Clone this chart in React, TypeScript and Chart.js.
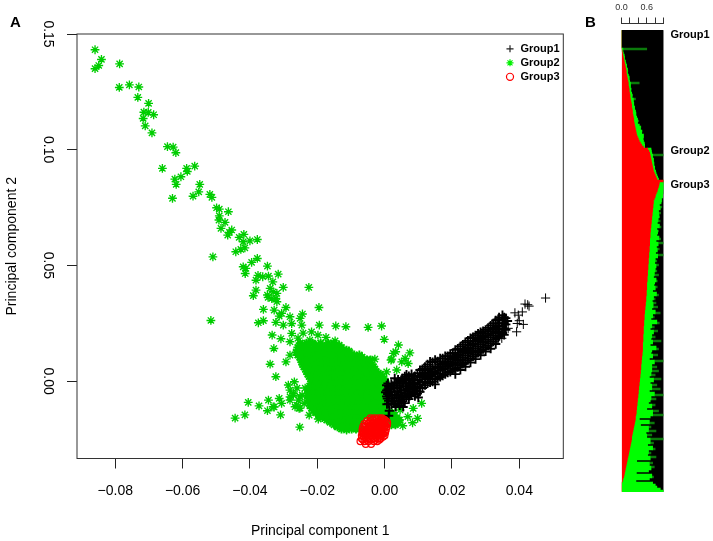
import React, { useEffect, useRef } from "react";
import { Chart, registerables } from "chart.js";

Chart.register(...registerables);

const FONT = "'Liberation Sans', Arial, sans-serif";

const xTickValues = [-0.08, -0.06, -0.04, -0.02, 0, 0.02, 0.04];
const yTickValues = [0, 0.05, 0.1, 0.15];

const group1Outliers = [
  [.0478,.0359],[.0425,.0330],[.0417,.0333],[.0429,.0324],[.0387,.0295],[.0409,.0299],[.0397,.0285],[.0394,.0249],
  [.0412,.0245],[.0400,.0261],[.0392,.0213],[.0367,.0228],[.0348,.0185],
];
const group1Low = [
  [.0006,-.0018],[.0003,-.0048],[.0008,-.0075],[.0012,-.0098],[.0014,-.0128],[.0018,-.0032],[.0022,-.0062],[.0028,-.0088],
  [.0033,-.0112],[.0035,-.0008],[.0038,-.0045],[.0044,-.0072],[.0055,-.0112],[.0055,-.0024],[.0058,-.0055],[.0066,.0006],
  [.0068,-.0034],[.0072,-.0078],[.0078,-.0012],[.0084,-.0048],[.0074,.0012],[.0100,-.0071],[.0030,.0012],[.0012,-.0150],
  [.0010,-.0035],[.0015,-.0060],[.0020,-.0085],[.0025,-.0020],[.0030,-.0045],[.0035,-.0070],[.0040,-.0095],[.0045,-.0020],
  [.0050,-.0040],[.0050,-.0090],[.0062,-.0010],[.0062,-.0040],[.0065,-.0070],[.0060,-.0095],[.0075,-.0030],[.0080,-.0060],
  [.0085,-.0025],[.0085,.0005],[.0095,-.0040],[.0090,-.0065],[.0045,-.0002],[.0060,.0020],
  [.0010,-.0010],[.0012,-.0025],[.0006,-.0040],[.0009,-.0056],[.0006,-.0066],[.0012,-.0085],[.0007,-.0100],[.0020,-.0012],
  [.0020,-.0045],[.0024,-.0075],[.0020,-.0102],[.0028,-.0032],[.0030,-.0058],[.0032,-.0100],[.0038,-.0018],[.0038,-.0030],
  [.0040,-.0060],[.0044,-.0085],[.0045,-.0105],[.0048,-.0050],[.0052,-.0010],[.0052,-.0065],[.0056,-.0078],[.0058,.0004],
  [.0066,-.0022],[.0068,-.0052],[.0072,-.0010],[.0074,-.0044],[.0074,-.0064],[.0082,-.0036],[.0082,-.0008],[.0088,-.0012],
  [.0040,.0006],[.0052,.0012],[.0072,.0022],[.0080,.0030],[.0065,.0028],
];
const group1Band = [
  [.009,.0022],[.009,-.0010],[.009,-.0032],[.0105,.0048],[.0105,.0018],[.0105,-.0015],[.0105,-.0046],[.012,.0062],[.012,.0035],
  [.012,.0008],[.012,-.0018],[.0135,.0084],[.0135,.0050],[.0135,.0022],[.0135,-.0006],[.015,.0092],[.015,.0062],[.015,.0035],
  [.015,.0008],[.015,-.0014],[.0165,.0098],[.0165,.0072],[.0165,.0045],[.0165,.0018],[.018,.0108],[.018,.0082],[.018,.0056],
  [.018,.0030],[.0195,.0118],[.0195,.0094],[.0195,.0068],[.0195,.0040],[.021,.0135],[.021,.0108],[.021,.0082],[.021,.0052],
  [.021,.0030],[.0225,.0150],[.0225,.0122],[.0225,.0095],[.0225,.0068],[.0225,.0048],[.024,.0168],[.024,.0138],[.024,.0110],
  [.024,.0082],[.024,.0062],[.0255,.0186],[.0255,.0155],[.0255,.0126],[.0255,.0098],[.0255,.0080],[.027,.0198],[.027,.0170],
  [.027,.0142],[.027,.0115],[.027,.0095],[.0285,.0212],[.0285,.0185],[.0285,.0158],[.0285,.0130],[.0285,.0112],[.030,.0222],
  [.030,.0198],[.030,.0172],[.030,.0146],[.030,.0128],[.0315,.0240],[.0315,.0215],[.0315,.0190],[.0315,.0162],[.0315,.0140],
  [.033,.0262],[.033,.0230],[.033,.0208],[.033,.0180],[.033,.0160],[.034,.0275],[.034,.0250],[.034,.0222],[.034,.0195],
  [.035,.0285],[.035,.0262],[.035,.0236],[.035,.0208],[.036,.0272],[.036,.0245],[.036,.0222],[.0365,.0260],
  [.0112,.0030],[.0128,.0012],[.0142,.0040],[.0158,.0058],[.0172,.0064],[.0188,.0074],[.0202,.0095],[.0218,.0110],[.0232,.0128],
  [.0248,.0140],[.0262,.0160],[.0278,.0175],[.0292,.0192],[.0308,.0205],[.0322,.0225],[.0338,.0238],[.0098,.0005],[.0082,.0010],
  [.00975,.0034],[.00975,.0004],[.00975,-.0022],[.00975,-.0054],[.01125,.0052],[.01125,.0024],[.01125,-.0004],[.01125,-.0030],
  [.01275,.0072],[.01275,.0044],[.01275,.0018],[.01275,-.0010],[.01425,.0082],[.01425,.0054],[.01425,.0028],[.01425,-.0002],
  [.01575,.0085],[.01575,.0060],[.01575,.0032],[.01575,.0010],[.01725,.0098],[.01725,.0076],[.01725,.0050],[.01725,.0024],
  [.01875,.0108],[.01875,.0086],[.01875,.0062],[.01875,.0036],[.02025,.0122],[.02025,.0100],[.02025,.0074],[.02025,.0046],
  [.02175,.0140],[.02175,.0116],[.02175,.0088],[.02175,.0060],[.02325,.0158],[.02325,.0130],[.02325,.0102],[.02325,.0074],
  [.02475,.0175],[.02475,.0146],[.02475,.0118],[.02475,.0090],[.02625,.0190],[.02625,.0162],[.02625,.0134],[.02625,.0106],
  [.02775,.0205],[.02775,.0178],[.02775,.0150],[.02775,.0122],[.02925,.0216],[.02925,.0190],[.02925,.0165],[.02925,.0138],
  [.03075,.0230],[.03075,.0206],[.03075,.0180],[.03075,.0153],[.03225,.0250],[.03225,.0222],[.03225,.0198],[.03225,.0170],
  [.03375,.0268],[.03375,.0240],[.03375,.0214],[.03375,.0186],[.0355,.0275],[.0355,.0250],[.0355,.0228],[.0355,.0200],
];

const group2Arm = [
  [-.0860,.1432],[-.0841,.1390],[-.0849,.1364],[-.0860,.1350],[-.0787,.1371],[-.0788,.1269],[-.0758,.1280],[-.0730,.1271],
  [-.0733,.1226],[-.0701,.1200],[-.0715,.1162],[-.0702,.1161],[-.0686,.1151],[-.0717,.1135],[-.0711,.1103],[-.0691,.1073],
  [-.0645,.1013],[-.0628,.1011],[-.0620,.0987],[-.0660,.0919],[-.0588,.0919],[-.0586,.0906],[-.0564,.0929],[-.0605,.0883],
  [-.0623,.0873],[-.0619,.0850],[-.0549,.0850],[-.0552,.0818],[-.0569,.0799],[-.0519,.0807],[-.0513,.0794],[-.0630,.0790],
  [-.0499,.0749],[-.0491,.0743],[-.0464,.0732],[-.0491,.0714],[-.0492,.0696],[-.0474,.0686],[-.0486,.0660],[-.0454,.0653],
  [-.0461,.0643],[-.0466,.0631],[-.0418,.0634],[-.0432,.0621],[-.0420,.0602],[-.0400,.0606],[-.0378,.0612],[-.0415,.0576],
  [-.0427,.0569],[-.0442,.0559],[-.0510,.0537],[-.0378,.0530],[-.0395,.0513],[-.0348,.0497],[-.0420,.0494],[-.0412,.0487],
  [-.0414,.0465],[-.0316,.0462],[-.0376,.0457],[-.0362,.0451],[-.0345,.0454],[-.0382,.0436],[-.0332,.0429],[-.0301,.0405],
  [-.0225,.0405],[-.0382,.0393],[-.0340,.0401],[-.0331,.0386],[-.0390,.0369],[-.0348,.0372],[-.0320,.0379],[-.0323,.0357],
  [-.0346,.0362],[-.0320,.0343],[-.0335,.0357],[-.0195,.0318],[-.0360,.0310],[-.0328,.0307],[-.0293,.0318],[-.0306,.0293],
  [-.0313,.0281],[-.0244,.0290],[-.0281,.0278],[-.0251,.0271],[-.0360,.0261],[-.0375,.0252],[-.0323,.0254],[-.0301,.0242],
  [-.0276,.0249],[-.0246,.0242],[-.0194,.0242],[-.0145,.0238],[-.0115,.0235],[-.0049,.0232],[-.0009,.0238],[-.0334,.0199],
  [-.0308,.0183],[-.0276,.0206],[-.0217,.0213],[-.0001,.0180],[-.0174,.0189],[-.0281,.0170],[-.0329,.0141],[-.0251,.0156],
  [-.0147,.0174],[-.0106,.0130],[.0041,.0156],[.0026,.0120],[.0019,.0091],[.0061,.0098],[-.0281,.0112],[-.0340,.0073],
  [-.0293,.0083],[-.0053,.0091],[-.0029,.0095],[-.0323,.0019],[-.0286,-.0017],[-.0268,-.0003],[-.0019,.0033],[.0006,.0040],
  [.0036,.0048],[-.0516,.0262],[.0021,.0095],[.0033,.0127],[.0075,.0122],[.0070,.0076],[.0051,.0083],
  [-.0242,.0207],[-.0222,.0177],[-.0257,.0186],[-.0198,.0199],[-.0236,.0151],
];
const group2Lower = [
  [-.0405,-.0092],[-.0345,-.0082],[-.0373,-.0107],[-.0313,-.0075],[-.0331,-.0111],[-.0306,-.0096],[-.0271,-.0053],[-.0251,-.0068],
  [-.0281,-.0082],[-.0261,-.0104],[-.0444,-.0160],[-.0415,-.0146],[-.0348,-.0128],[-.0328,-.0112],[-.0309,-.0146],[-.0252,-.0199],
  [-.0224,-.0147],[-.0271,-.0061],[-.0256,-.0082],[-.0281,-.0068],[-.0239,-.0096],[-.0266,-.0111],[-.0254,-.0118],[-.0197,-.0164],
  [-.0130,-.0199],[-.0113,-.0212],[.0110,-.0096],[.0098,-.0161],[.0083,-.0180],[.0054,-.0193],[.0085,-.0118],[.0069,-.0154],
  [.0036,-.0182],[.0046,-.0125],[-.0281,-.0039],[-.0260,-.0030],[-.0245,-.0060],[-.0236,-.0030],[-.0251,-.0117],
];

const group2CoreRowY = [.0164,.0145,.0124,.0103,.0082,.0062,.0041,.0020,-.0001,-.0022,-.0043,-.0064,-.0085,-.0106,-.0127,-.0148,-.0168,-.0189,-.0207];
const group2CoreRowX = [
  [-.0251,-.0232,-.0214,-.0190,-.0168,-.0151],
  [-.0258,-.0241,-.0226,-.0209,-.0193,-.0177,-.0160,-.0144,-.0128],
  [-.0263,-.0247,-.0231,-.0216,-.0200,-.0184,-.0168,-.0153,-.0137,-.0121,-.0104],
  [-.0252,-.0237,-.0222,-.0207,-.0191,-.0176,-.0160,-.0145,-.0130,-.0114,-.0098,-.0083,-.0067],
  [-.0246,-.0231,-.0216,-.0201,-.0186,-.0171,-.0155,-.0140,-.0125,-.0110,-.0095,-.0080,-.0065,-.0050],
  [-.0240,-.0225,-.0211,-.0196,-.0181,-.0166,-.0151,-.0136,-.0122,-.0107,-.0092,-.0077,-.0062,-.0047,-.0033],
  [-.0232,-.0218,-.0203,-.0188,-.0173,-.0158,-.0143,-.0129,-.0114,-.0099,-.0084,-.0069,-.0054,-.0040,-.0025],
  [-.0224,-.0209,-.0195,-.0180,-.0165,-.0150,-.0135,-.0121,-.0106,-.0091,-.0076,-.0061,-.0046,-.0032,-.0018,-.0006],
  [-.0216,-.0201,-.0187,-.0172,-.0157,-.0142,-.0128,-.0113,-.0098,-.0083,-.0068,-.0054,-.0039,-.0024,-.0010,.0002],
  [-.0222,-.0207,-.0192,-.0178,-.0163,-.0148,-.0133,-.0119,-.0104,-.0089,-.0074,-.0060,-.0045,-.0030,-.0015,.0004],
  [-.0226,-.0211,-.0196,-.0182,-.0167,-.0152,-.0137,-.0122,-.0108,-.0093,-.0078,-.0063,-.0049,-.0034,-.0019,-.0005,.0006],
  [-.0228,-.0213,-.0198,-.0184,-.0169,-.0154,-.0139,-.0125,-.0110,-.0095,-.0080,-.0066,-.0051,-.0036,-.0021,-.0007,.0005],
  [-.0226,-.0211,-.0197,-.0182,-.0167,-.0152,-.0138,-.0123,-.0108,-.0093,-.0079,-.0064,-.0049,-.0034,-.0020,-.0005],
  [-.0222,-.0207,-.0192,-.0178,-.0163,-.0148,-.0133,-.0119,-.0104,-.0089,-.0075,-.0060,-.0045,-.0030,-.0016,-.0002],
  [-.0212,-.0197,-.0183,-.0168,-.0153,-.0139,-.0124,-.0109,-.0094,-.0080,-.0065,-.0050,-.0036,-.0021,-.0007,.0005],
  [-.0196,-.0181,-.0166,-.0152,-.0137,-.0122,-.0108,-.0093,-.0078,-.0063,-.0049,-.0034,-.0012,.0002,.0014,.0028],
  [-.0172,-.0157,-.0143,-.0128,-.0113,-.0099,-.0084,-.0070,.0002,.0016,.0030,.0044],
  [-.0150,-.0135,-.0120,-.0105,-.0090,-.0076,.0020,.0032],
  [-.0128,-.0113,-.0098,-.0085,-.0072],
];
const group2FillRowY = [.0155,.0134,.0113,.0092,.0072,.0051,.0030,.0010,-.0011,-.0032,-.0053,-.0074,-.0096,-.0116,-.0137,-.0158,-.0178,-.0198];
const group2FillRowX = [
  [-.0246,-.0224,-.0204,-.0185,-.0165,-.0146,-.0135],
  [-.0255,-.0238,-.0222,-.0206,-.0190,-.0175,-.0160,-.0145,-.0129,-.0113],
  [-.0258,-.0243,-.0228,-.0212,-.0197,-.0182,-.0167,-.0152,-.0136,-.0121,-.0106,-.0090,-.0075],
  [-.0248,-.0233,-.0218,-.0203,-.0188,-.0172,-.0157,-.0142,-.0127,-.0112,-.0097,-.0082,-.0067,-.0052,-.0042],
  [-.0243,-.0228,-.0213,-.0198,-.0183,-.0168,-.0153,-.0138,-.0123,-.0108,-.0093,-.0078,-.0063,-.0048,-.0038],
  [-.0235,-.0221,-.0206,-.0191,-.0176,-.0161,-.0146,-.0132,-.0117,-.0102,-.0087,-.0072,-.0057,-.0043,-.0029],
  [-.0228,-.0213,-.0199,-.0184,-.0169,-.0154,-.0139,-.0125,-.0110,-.0095,-.0080,-.0065,-.0050,-.0036,-.0021,-.0012],
  [-.0220,-.0205,-.0191,-.0176,-.0161,-.0146,-.0131,-.0117,-.0102,-.0087,-.0072,-.0058,-.0043,-.0028,-.0013,-.0002],
  [-.0219,-.0204,-.0189,-.0175,-.0160,-.0145,-.0130,-.0116,-.0101,-.0086,-.0071,-.0057,-.0042,-.0027,-.0012,.0003],
  [-.0224,-.0209,-.0194,-.0180,-.0165,-.0150,-.0135,-.0120,-.0106,-.0091,-.0076,-.0061,-.0047,-.0032,-.0017,-.0003,.0006],
  [-.0227,-.0212,-.0197,-.0183,-.0168,-.0153,-.0138,-.0124,-.0109,-.0094,-.0079,-.0065,-.0050,-.0035,-.0020,-.0006,.0006],
  [-.0227,-.0212,-.0198,-.0183,-.0168,-.0153,-.0139,-.0124,-.0109,-.0094,-.0080,-.0065,-.0050,-.0035,-.0021,-.0006],
  [-.0224,-.0209,-.0195,-.0180,-.0165,-.0150,-.0136,-.0121,-.0106,-.0091,-.0077,-.0062,-.0047,-.0032,-.0018,-.0003],
  [-.0217,-.0202,-.0188,-.0173,-.0158,-.0144,-.0129,-.0114,-.0099,-.0085,-.0070,-.0055,-.0041,-.0026,-.0011,.0004],
  [-.0204,-.0189,-.0175,-.0160,-.0145,-.0131,-.0116,-.0101,-.0086,-.0071,-.0057,-.0042,-.0020,-.0005,.0010,.0022],
  [-.0185,-.0170,-.0155,-.0141,-.0126,-.0111,-.0097,-.0082,-.0070,.0008,.0022,.0036],
  [-.0162,-.0147,-.0132,-.0118,-.0103,-.0088,-.0075,.0012,.0026,.0040],
  [-.0140,-.0125,-.0110,-.0095,-.0080],
];

const group3RowY = [-.0160,-.0172,-.0185,-.0197,-.0210,-.0222,-.0235,-.0248,-.0260,-.0272,-.0166,-.0178,-.0191,-.0203,-.0216,-.0228,-.0241,-.0254];
const group3RowX = [
  [-.0042,-.0030,-.0018,-.0008],
  [-.0052,-.0040,-.0028,-.0016,-.0006,.0004],
  [-.0060,-.0048,-.0036,-.0024,-.0012,-.0002,.0008],
  [-.0064,-.0052,-.0040,-.0028,-.0016,-.0005,.0006],
  [-.0066,-.0054,-.0042,-.0030,-.0018,-.0006,.0004],
  [-.0066,-.0056,-.0044,-.0032,-.0020,-.0008,.0002],
  [-.0068,-.0056,-.0044,-.0032,-.0020,-.0010,.0000],
  [-.0068,-.0056,-.0044,-.0034,-.0020,-.0012],
  [-.0072,-.0060,-.0048,-.0032,-.0022],
  [-.0056,-.0040],
  [-.0036,-.0024,-.0012,-.0002],
  [-.0046,-.0034,-.0022,-.0010,.0000,.0008],
  [-.0056,-.0044,-.0032,-.0020,-.0008,.0002],
  [-.0060,-.0048,-.0036,-.0024,-.0012,-.0001],
  [-.0062,-.0050,-.0038,-.0026,-.0012,-.0002],
  [-.0062,-.0050,-.0038,-.0026,-.0014,-.0004],
  [-.0062,-.0050,-.0038,-.0026,-.0015,-.0005],
  [-.0064,-.0052,-.0040,-.0028,-.0016],
];

// Panel B: membership per row, in percent of the bar width (two-pixel rows, top to bottom)
const redShare = [
  0,0,0,0,0,0,0,0,0,0,
  1,2,3,4,5,6,7,8,9,10,
  11,11,12,13,14,15,16,
  16,17,18,18,19,20,20,21,22,
  23,24,24,25,26,26,27,28,
  29,29,30,31,32,
  33,34,35,36,38,
  40,42,45,48,52,
  62,65,67,68,69,70,71,72,73,74,75,76,78,80,82,84,100,
  90,89,88,86,85,83,81,80,78,76,
  76,75,75,74,74,73,73,72,
  72,71,71,70,70,69,69,68,
  68,68,67,67,67,67,66,66,66,
  65,65,65,64,64,64,63,63,
  63,62,62,62,61,61,61,60,
  60,60,60,59,59,59,58,58,58,
  57,57,56,56,55,55,54,54,
  54,53,53,53,52,52,52,52,
  51,51,51,51,50,50,50,50,50,
  49,49,48,48,47,47,46,46,
  46,45,45,44,44,43,43,42,
  42,41,41,40,40,39,39,38,38,
  37,37,36,36,35,35,34,33,
  33,32,31,30,29,28,27,26,
  25,24,24,23,22,21,20,19,18,
  17,16,15,14,13,12,11,10,
  9,8,7,6,5,3,2,0,
  0,0,0,0,
];
const greenShare = [
  0,0,0,0,0,0,0,0,0,60,
  2,2,3,3,2,3,3,4,3,4,
  4,3,4,5,4,4,26,
  5,4,5,4,5,6,5,12,6,
  6,5,7,6,7,8,7,8,
  9,12,8,11,14,
  12,15,13,16,14,
  11,10,9,7,3,
  8,6,5,32,5,6,5,5,4,5,4,5,4,4,4,4,0,
  10,11,12,14,14,16,17,18,17,20,
  18,15,21,18,14,20,16,19,
  15,21,14,20,24,15,19,18,
  16,21,26,15,33,20,17,24,19,
  16,35,21,16,20,15,25,19,
  17,22,16,26,15,21,24,19,
  17,25,20,15,24,29,18,22,15,
  25,18,30,16,25,37,20,24,
  16,31,37,19,26,16,34,24,
  21,29,19,43,24,18,32,38,22,
  21,37,26,18,53,31,26,38,
  26,43,25,36,22,51,33,26,
  42,31,51,26,38,61,31,44,30,
  27,43,36,24,53,39,66,35,
  9,34,47,15,41,36,55,32,
  47,36,76,45,54,41,54,61,46,
  53,46,67,54,23,62,55,68,
  61,56,28,66,71,63,32,74,
  80,84,92,100,
];
const groupLabelRows = { 2: "Group1", 60: "Group2", 77: "Group3" } as Record<number, string>;
const shareTicks = [0, 20, 40, 60, 80, 100];
const shareLabels = { 0: "0.0", 60: "0.6" } as Record<number, string>;

const toPoints = (pairs: number[][]) => pairs.map(([x, y]) => ({ x, y }));
const rowsToPoints = (ys: number[], xs: number[][]) =>
  ys.flatMap((y, i) => xs[i].map((x) => ({ x, y })));

export default function App() {
  const scatterRef = useRef<HTMLCanvasElement>(null);
  const barRef = useRef<HTMLCanvasElement>(null);

  useEffect(() => {
    const placeLegend = {
      id: "placeLegend",
      beforeDraw(chart: any) {
        const l = chart.legend;
        l.left = 502;
        l.right = 562;
        l.top = 40.3;
        l.bottom = 90;
      },
    };
    const frame = {
      id: "frame",
      afterDatasetsDraw(chart: any) {
        const { left, top, width, height } = chart.chartArea;
        const c = chart.ctx;
        c.save();
        c.strokeStyle = "#333";
        c.lineWidth = 1;
        c.strokeRect(left, top, width, height);
        c.restore();
      },
    };
    const legendColors = ["#222222", "#00F000", "#FF0000"];
    const legendStyles = ["cross", "star", "circle"];
    const sparseGreen = group2Arm.length + group2Lower.length;
    const thinBlack = group1Outliers.length;

    const scatter = new Chart(scatterRef.current!, {
      type: "scatter",
      data: {
        datasets: [
          {
            label: "Group1",
            data: toPoints([...group1Outliers, ...group1Low, ...group1Band]),
            pointStyle: "cross",
            pointRadius: 4.6,
            pointBorderWidth: (c: any) => (c.dataIndex < thinBlack ? 1 : 1.9),
            borderColor: "#000000",
            backgroundColor: "transparent",
            order: 1,
          },
          {
            label: "Group2",
            data: [
              ...toPoints(group2Arm),
              ...toPoints(group2Lower),
              ...rowsToPoints(group2CoreRowY, group2CoreRowX),
              ...rowsToPoints(group2FillRowY, group2FillRowX),
            ],
            pointStyle: "star",
            pointRadius: 4.4,
            pointBorderWidth: (c: any) => (c.dataIndex < sparseGreen ? 1.35 : 1.9),
            borderColor: "#00CD00",
            backgroundColor: "#00CD00",
            order: 2,
          },
          {
            label: "Group3",
            data: rowsToPoints(group3RowY, group3RowX),
            pointStyle: "circle",
            pointRadius: 3.3,
            pointBorderWidth: 1.2,
            borderColor: "#FF0000",
            backgroundColor: "transparent",
            order: 0,
          },
        ],
      },
      options: {
        animation: false,
        responsive: false,
        events: [],
        layout: { padding: { top: 34, right: 149.7, left: 0, bottom: 0 } },
        plugins: {
          tooltip: { enabled: false },
          legend: {
            position: "chartArea" as any,
            align: "start",
            labels: {
              usePointStyle: true,
              boxWidth: 10,
              boxHeight: 5,
              padding: 3,
              color: "#000",
              font: { family: FONT, size: 11, weight: "bold", lineHeight: 1 },
              generateLabels: (chart: any) =>
                chart.data.datasets.map((d: any, i: number) => ({
                  text: d.label,
                  pointStyle: legendStyles[i],
                  strokeStyle: legendColors[i],
                  fillStyle: i === 2 ? "transparent" : legendColors[i],
                  lineWidth: 1.2,
                  hidden: false,
                  datasetIndex: i,
                })),
            },
          },
        },
        scales: {
          x: {
            type: "linear",
            min: -0.09136,
            max: 0.05307,
            afterFit: (s: any) => {
              s.height = 82.5;
            },
            afterBuildTicks: (s: any) => {
              s.ticks = xTickValues.map((value) => ({ value }));
            },
            grid: { drawOnChartArea: false, drawTicks: true, tickLength: 10, tickColor: "#222", lineWidth: 1 },
            border: { display: false },
            ticks: {
              autoSkip: false,
              padding: 14,
              color: "#000",
              maxRotation: 0,
              font: { family: FONT, size: 14 },
              callback: (v: any) => (Number(v) < 0 ? "\u2212" : "") + Math.abs(Number(v)).toFixed(2),
            },
            title: {
              display: true,
              text: "Principal component 1",
              color: "#000",
              font: { family: FONT, size: 14 },
              padding: { top: 0, bottom: 1 },
            },
          },
          y: {
            type: "linear",
            min: -0.03345,
            max: 0.15,
            afterFit: (s: any) => {
              s.width = 77;
            },
            afterBuildTicks: (s: any) => {
              s.ticks = yTickValues.map((value) => ({ value }));
            },
            grid: { drawOnChartArea: false, drawTicks: true, tickLength: 10, tickColor: "#222", lineWidth: 1 },
            border: { display: false },
            ticks: {
              autoSkip: false,
              minRotation: -90,
              crossAlign: "center",
              padding: 5.4,
              color: "#000",
              font: { family: FONT, size: 14 },
              callback: (v: any) => Number(v).toFixed(2),
            },
            title: {
              display: true,
              text: "Principal component 2",
              color: "#000",
              font: { family: FONT, size: 14 },
              padding: { top: 3.4, bottom: 0 },
            },
          },
        },
      } as any,
      plugins: [placeLegend, frame],
    });

    const liftAxis = {
      id: "liftAxis",
      afterLayout(chart: any) {
        const s = chart.scales.x;
        s.top -= 7;
        s.bottom -= 7;
      },
    };
    // Each row's green is split into the solid body and a dark thin spike beyond its neighbours.
    const totals = redShare.map((r, i) => r + greenShare[i]);
    const neighbourEdge = (i: number) => {
      const near = [totals[i - 1] ?? totals[i], totals[i], totals[i + 1] ?? totals[i]];
      return near.slice().sort((a, b) => a - b)[1];
    };
    const bodyShare = redShare.map((r, i) => Math.max(0, Math.min(totals[i], neighbourEdge(i)) - r));
    const spikeShare = greenShare.map((g, i) => g - bodyShare[i]);
    const blackShare = redShare.map((r, i) => 100 - r - greenShare[i]);
    const bar = new Chart(barRef.current!, {
      type: "bar",
      data: {
        labels: redShare.map((_, i) => groupLabelRows[i] ?? ""),
        datasets: [
          { label: "red", data: redShare, backgroundColor: "#FF0000" },
          { label: "green", data: bodyShare, backgroundColor: "#00FF00" },
          { label: "green spike", data: spikeShare, backgroundColor: "#0B7A0B" },
          { label: "black", data: blackShare, backgroundColor: "#000000" },
        ],
      },
      options: {
        animation: false,
        responsive: false,
        events: [],
        indexAxis: "y",
        layout: { padding: { left: 21.6, right: 0, top: 0, bottom: 49 } },
        datasets: { bar: { categoryPercentage: 1, barPercentage: 1, borderWidth: 0 } },
        plugins: { legend: { display: false }, tooltip: { enabled: false } },
        scales: {
          x: {
            type: "linear",
            position: "top",
            stacked: true,
            min: 0,
            max: 100,
            afterFit: (s: any) => {
              s.height = 30;
            },
            afterBuildTicks: (s: any) => {
              s.ticks = shareTicks.map((value) => ({ value }));
            },
            grid: { drawOnChartArea: false, drawTicks: true, tickLength: 5.5, tickColor: "#333", lineWidth: 1 },
            border: { display: true, color: "#333", width: 1 },
            ticks: {
              autoSkip: false,
              padding: 4.5,
              maxRotation: 0,
              color: "#333",
              font: { family: FONT, size: 9 },
              callback: (v: any) => shareLabels[Number(v)] ?? "",
            },
          },
          y: {
            type: "category",
            position: "right",
            stacked: true,
            afterFit: (s: any) => {
              s.width = 49.5;
            },
            grid: { display: false, drawTicks: false },
            border: { display: false },
            ticks: {
              autoSkip: false,
              padding: 7,
              color: "#000",
              font: { family: FONT, size: 11, weight: "bold" },
            },
          },
        },
      } as any,
      plugins: [liftAxis],
    });

    return () => {
      scatter.destroy();
      bar.destroy();
    };
  }, []);

  const letter: React.CSSProperties = {
    position: "absolute",
    font: `bold 15px ${FONT}`,
    lineHeight: "15px",
    color: "#000",
  };
  return (
    <div style={{ position: "absolute", left: 0, top: 0, width: 713, height: 541, background: "#fff" }}>
      <canvas ref={scatterRef} width={713} height={541} style={{ position: "absolute", left: 0, top: 0 }} />
      <canvas ref={barRef} width={113} height={541} style={{ position: "absolute", left: 600, top: 0 }} />
      <div style={{ ...letter, left: 10, top: 14 }}>A</div>
      <div style={{ ...letter, left: 585, top: 14 }}>B</div>
    </div>
  );
}
